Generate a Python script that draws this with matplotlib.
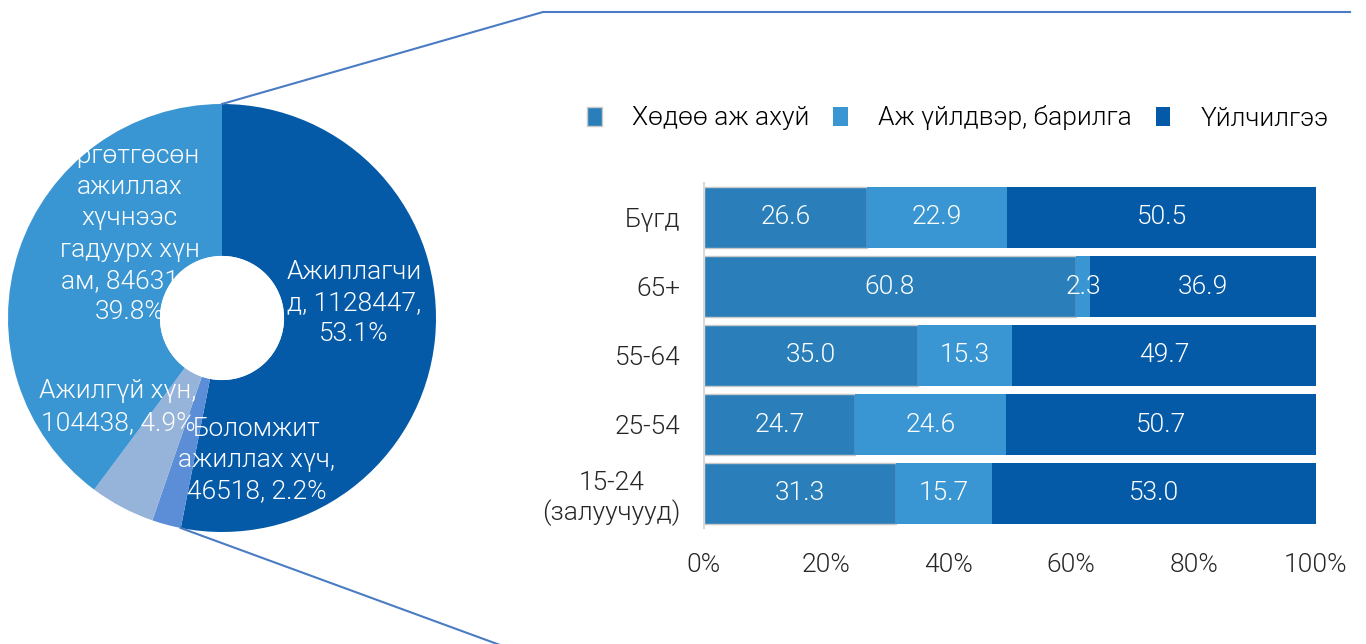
import matplotlib
matplotlib.use("Agg")
import matplotlib.pyplot as plt
from matplotlib.patches import Circle, Polygon
from matplotlib.lines import Line2D
import numpy as np

plt.rcParams['font.family'] = ['Roboto', 'DejaVu Sans']
plt.rcParams['font.weight'] = 300

# ---------------- data ----------------
pie_labels = ["Ажиллагчид", "Боломжит ажиллах хүч", "Ажилгүй хүн",
              "Өргөтгөсөн ажиллах хүчнээс гадуурх хүн ам"]
pie_values = [1128447, 46518, 104438, 846318]
pie_pct = [53.1, 2.2, 4.9, 39.8]
pie_colors = ['#055aa8', '#5b8ed6', '#96b3d9', '#3a96d2']

categories = ["Бүгд", "65+", "55-64", "25-54", "15-24\n(залуучууд)"]
series_names = ["Хөдөө аж ахуй", "Аж үйлдвэр, барилга", "Үйлчилгээ"]
agri = [26.6, 60.8, 35.0, 24.7, 31.3]
industry = [22.9, 2.3, 15.3, 24.6, 15.7]
services = [50.5, 36.9, 49.7, 50.7, 53.0]
bar_colors = ['#2a7fba', '#3a96d2', '#055aa8']
xticks = [0, 20, 40, 60, 80, 100]
xtick_labels = ["0%", "20%", "40%", "60%", "80%", "100%"]

W, H = 1366, 644
fig = plt.figure(figsize=(W / 100, H / 100), dpi=100)
FS = 19

def fx(px):
    return px / W

def fy(py):
    return 1 - py / H

# ---------------- pie ----------------
cx, cy, R = 222, 318, 214
ax_p = fig.add_axes([fx(cx - R), fy(cy + R), 2 * R / W, 2 * R / H])
wedges, _ = ax_p.pie(pie_values, colors=pie_colors, startangle=90, counterclock=False,
                     radius=1, wedgeprops=dict(width=0.71, linewidth=0))
ax_p.set_xlim(-1, 1)
ax_p.set_ylim(-1, 1)
ax_p.set_aspect('auto')
ax_p.axis('off')

lbl_texts = [
    "Ажиллагчи\nд, %d,\n%.1f%%" % (pie_values[0], pie_pct[0]),
    "Боломжит\nажиллах хүч,\n%d, %.1f%%" % (pie_values[1], pie_pct[1]),
    "Ажилгүй хүн,\n%d, %.1f%%" % (pie_values[2], pie_pct[2]),
    "Өргөтгөсөн\nажиллах\nхүчнээс\nгадуурх хүн\nам, %d,\n%.1f%%" % (pie_values[3], pie_pct[3]),
]
lbl_pos = [(0.617, 0.07), (0.163, -0.664), (-0.486, -0.416), (-0.43, 0.393)]
clip_poly = Polygon([(0, fy(172)), (fx(75), fy(172)), (fx(75), 1), (1, 1), (1, 0), (0, 0)],
                    closed=True, transform=fig.transFigure, facecolor='none', edgecolor='none')
order = [3, 2, 0, 1]
for i in order:
    t = ax_p.text(lbl_pos[i][0], lbl_pos[i][1], lbl_texts[i], ha='center', va='center',
                  color='white', fontsize=FS, fontweight=300, linespacing=1.38, zorder=4)
    if i == 3:
        t.set_clip_on(True)
        t.set_clip_path(clip_poly)
    else:
        t.set_clip_on(False)

ax_p.add_patch(Circle((0, 0), 0.29, facecolor='white', edgecolor='none', zorder=6))

# ---------------- bars ----------------
ax = fig.add_axes([fx(704), fy(528), (1316 - 704) / W, 345 / H])
y = np.arange(len(categories))
h = 0.87
b1 = ax.barh(y, agri, height=h, color=bar_colors[0], edgecolor='#c9c9c9', linewidth=1.0,
             label=series_names[0])
b2 = ax.barh(y, industry, left=agri, height=h, color=bar_colors[1], linewidth=0,
             label=series_names[1])
left3 = [a + b for a, b in zip(agri, industry)]
b3 = ax.barh(y, services, left=left3, height=h, color=bar_colors[2], linewidth=0,
             label=series_names[2])
for bars, vals in ((b1, agri), (b2, industry), (b3, services)):
    ax.bar_label(bars, labels=["%.1f" % v for v in vals], label_type='center',
                 color='white', fontsize=FS, fontweight=300)

ax.set_xlim(0, 100)
ax.set_ylim(4.5, -0.5)
ax.set_yticks(y)
ax.set_yticklabels(categories, fontsize=FS, color='#262626', multialignment='center')
ax.set_xticks(xticks)
ax.set_xticklabels(xtick_labels, fontsize=FS, color='#262626')
ax.tick_params(axis='both', length=0)
ax.tick_params(axis='y', pad=17)
ax.tick_params(axis='x', pad=18)
for s in ('top', 'right', 'bottom'):
    ax.spines[s].set_visible(False)
ax.spines['left'].set_color('#d9d9d9')
ax.spines['left'].set_linewidth(1.5)

leg = fig.legend(handles=[b1, b2, b3], labels=series_names, loc='center',
                 bbox_to_anchor=(fx(958), fy(118)), ncol=3, frameon=False,
                 fontsize=FS, handlelength=0.55, handleheight=0.7,
                 handletextpad=1.15, columnspacing=0.9, borderaxespad=0)

# ---------------- connector lines ----------------
lc = '#4a7cc4'
ang_b = np.deg2rad(90 - pie_pct[0] * 3.6)
bx, by = cx + R * np.cos(ang_b), cy - R * np.sin(ang_b)
fig.add_artist(Line2D([fx(cx), fx(543), fx(1350)], [fy(cy - R), fy(12), fy(12)],
                      color=lc, lw=1.5, transform=fig.transFigure))
fig.add_artist(Line2D([fx(bx), fx(560)], [fy(by), fy(667)],
                      color=lc, lw=1.5, transform=fig.transFigure, clip_on=False))

fig.savefig("out.png", dpi=100)
